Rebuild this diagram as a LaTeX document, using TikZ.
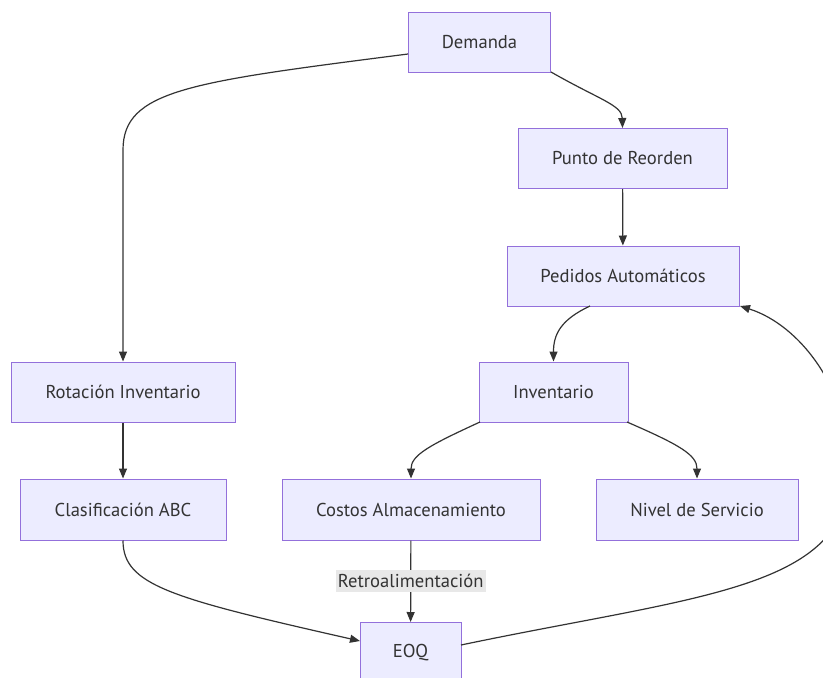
\documentclass[tikz,border=0pt]{standalone}
\usepackage{fontspec}
\setmainfont{PT Sans}
\usetikzlibrary{arrows.meta}
\definecolor{nodefill}{HTML}{ECECFF}
\definecolor{nodeborder}{HTML}{9370DB}
\definecolor{edgecol}{HTML}{333333}
\definecolor{labelbg}{HTML}{E8E8E8}
\begin{document}
\begin{tikzpicture}[x=1pt,y=-1pt,
  box/.style={draw=nodeborder,fill=nodefill,line width=1pt,minimum height=60pt,inner sep=0pt,font=\fontsize{18.6}{20}\selectfont,text=edgecol},
  edge/.style={draw=edgecol,line width=1.2pt,-{Triangle[length=10pt,width=8pt]}},
  lbl/.style={fill=labelbg,inner xsep=2pt,inner ysep=4pt,font=\fontsize{18.6}{20}\selectfont,text=edgecol}]
\useasboundingbox (0,0) rectangle (823,678);
\fill[white] (0,0) rectangle (823,678);
\node[box,minimum width=142pt] (dem) at (479.5,42.5) {Demanda};
\node[box,minimum width=209pt] (pun) at (622.5,158.5) {Punto de Reorden};
\node[box,minimum width=232pt] (ped) at (623,276) {Pedidos Automáticos};
\node[box,minimum width=224pt] (rot) at (123,392) {Rotación Inventario};
\node[box,minimum width=149pt] (inv) at (553.5,392) {Inventario};
\node[box,minimum width=206pt,minimum height=61pt] (cla) at (123,509.5) {Clasificación ABC};
\node[box,minimum width=258pt,minimum height=61pt] (cos) at (411,509.5) {Costos Almacenamiento};
\node[box,minimum width=202pt,minimum height=61pt] (niv) at (697,509.5) {Nivel de Servicio};
\node[box,minimum width=101pt] (eoq) at (410.5,652.5) {EOQ};
\coordinate (demL) at (408,54);
\coordinate (demR) at (551,72);
\coordinate (pedB) at (590,306);
\coordinate (pedC) at (740,306);
\coordinate (invL) at (480,422);
\coordinate (invR) at (627,422);
\coordinate (eoqL) at (360,641);
\coordinate (eoqR) at (461,645);
\coordinate (loop) at (850,470);
\draw[edge] (demL) .. controls (190,82) and (123,90) .. (123,150) -- (rot.north);
\draw[edge] (demR) .. controls (600,100) and (622,105) .. (pun.north);
\draw[edge] (pun) -- (ped);
\draw[edge] (pedB) .. controls (560,320) and (553.5,335) .. (inv.north);
\draw[edge] (rot) -- (cla);
\draw[edge] (invL) .. controls (430,445) and (411,455) .. (cos.north);
\draw[edge] (invR) .. controls (680,445) and (697,455) .. (niv.north);
\draw[edge] (cla.south) .. controls (123,585) and (170,598) .. (eoqL);
\draw[edge] (cos) -- node[lbl,pos=0.5] (ret) {Retroalimentación} (eoq);
\draw[edge] (eoqR) .. controls (700,595) and (850,590) .. (loop) .. controls (850,390) and (800,325) .. (pedC);
\end{tikzpicture}
\end{document}
